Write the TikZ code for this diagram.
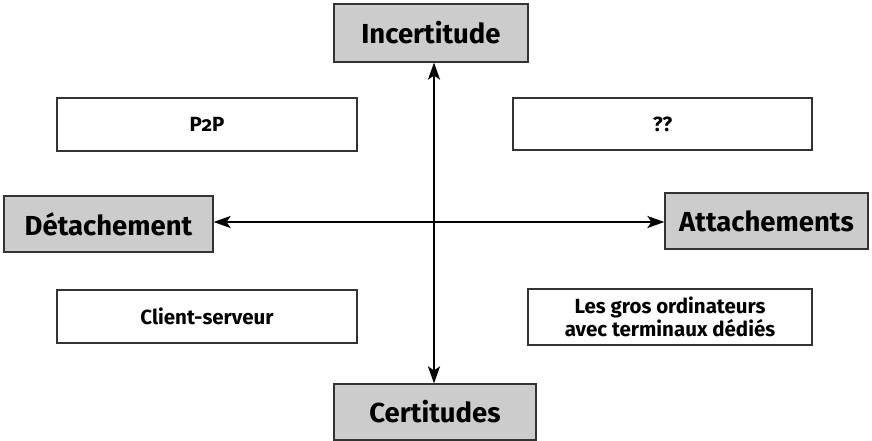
\documentclass[tikz,border=0pt]{standalone}
\usepackage{fontspec}
\setmainfont{Fira Sans}[Numbers=OldStyle]
\usetikzlibrary{arrows.meta}

\tikzset{
	axe/.style={draw=black!80, line width=1.2pt, fill=black!20, font=\fontsize{27.5}{32}\selectfont\bfseries},
	cas/.style={draw=black!80, line width=1.2pt, fill=white, align=center, font=\fontsize{20.5}{25}\selectfont\bfseries},
	fleche/.style={line width=2pt, {Stealth[length=17pt,width=12pt,inset=4pt]}-{Stealth[length=17pt,width=12pt,inset=4pt]}}
}

\begin{document}
\begin{tikzpicture}[x=1pt,y=-1pt]
	\useasboundingbox (0,0) rectangle (872,441);

	% axes
	\node[axe, minimum width=194pt, minimum height=58pt] (incert) at (431,33) {Incertitude};
	\node[axe, minimum width=202pt, minimum height=56pt] (cert) at (435,412) {Certitudes};
	\node[axe, minimum width=209pt, minimum height=56pt] (detach) at (108.5,224) {Détachement};
	\node[axe, minimum width=203pt, minimum height=56pt] (attach) at (766.5,221) {Attachements};

	% quadrants
	\node[cas, minimum width=300pt, minimum height=53pt] (ptp) at (207,124.5) {P2P};
	\node[cas, minimum width=299pt, minimum height=52pt] (inconnu) at (662.5,124) {??};
	\node[cas, minimum width=300pt, minimum height=53pt] (client) at (207,316.5) {Client-serveur};
	\node[cas, minimum width=284pt, minimum height=56pt, inner sep=1pt] (gros) at (670,317) {Les gros ordinateurs\\[-2pt]avec terminaux dédiés};

	\coordinate (centre) at (434,222);
	\draw[fleche] (centre |- incert.south) -- (centre |- cert.north);
	\draw[fleche] (detach.east |- centre) -- (attach.west |- centre);

\end{tikzpicture}
\end{document}
